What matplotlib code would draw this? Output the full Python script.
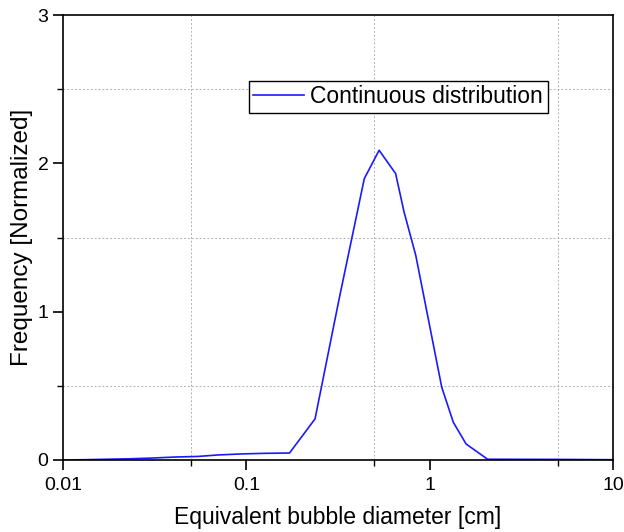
import matplotlib
matplotlib.use("Agg")
import matplotlib.pyplot as plt
from matplotlib.ticker import FixedLocator, NullFormatter

plt.rcParams['font.family'] = ['Liberation Sans', 'DejaVu Sans']

diameter = [0.01, 0.0132, 0.0173, 0.0227, 0.0305, 0.0408, 0.0545, 0.070, 0.0944,
            0.1265, 0.172, 0.237, 0.32, 0.44, 0.53, 0.652, 0.725, 0.84, 1.164,
            1.346, 1.58, 2.07, 5.0, 10.0]
frequency = [0.0, 0.002, 0.005, 0.008, 0.013, 0.02, 0.024, 0.034, 0.041,
             0.045, 0.047, 0.277, 1.08, 1.897, 2.088, 1.931, 1.672, 1.379, 0.49,
             0.254, 0.108, 0.005, 0.004, 0.002]
legend_label = "Continuous distribution"
x_ticks = [0.01, 0.1, 1, 10]
x_ticklabels = ["0.01", "0.1", "1", "10"]
x_minor = [0.05, 0.5, 5]
y_ticks = [0, 1, 2, 3]
y_minor = [0.5, 1.5, 2.5]

fig = plt.figure(figsize=(6.24, 5.32), dpi=100)
ax = fig.add_axes([63/624, 1-460/532, 550/624, 445/532])

ax.plot(diameter, frequency, color='#1a1aff', lw=1.2, label=legend_label)

ax.set_xscale('log')
ax.set_xlim(0.01, 10)
ax.set_ylim(0, 3)
ax.xaxis.set_major_locator(FixedLocator(x_ticks))
ax.set_xticklabels(x_ticklabels)
ax.xaxis.set_minor_locator(FixedLocator(x_minor))
ax.xaxis.set_minor_formatter(NullFormatter())
ax.yaxis.set_major_locator(FixedLocator(y_ticks))
ax.yaxis.set_minor_locator(FixedLocator(y_minor))

ax.grid(True, which='minor', color='#b0b0b0', linestyle=(0, (2, 2)), linewidth=0.7)
ax.grid(False, which='major')

ax.tick_params(axis='both', which='major', direction='out', length=7, width=1.2,
               labelsize=14, colors='black')
ax.tick_params(axis='both', which='minor', direction='out', length=4, width=1.0)
ax.tick_params(axis='x', pad=5)
for s in ax.spines.values():
    s.set_linewidth(1.2)

ax.set_xlabel("Equivalent bubble diameter [cm]", fontsize=16.5, labelpad=9)
ax.set_ylabel("Frequency [Normalized]", fontsize=17.5, labelpad=3.5)

leg = ax.legend(loc='upper left', bbox_to_anchor=(0.338, 0.852), fontsize=16.5,
                frameon=True, fancybox=False, edgecolor='black', framealpha=1,
                borderpad=0.2, handlelength=2.2, handletextpad=0.28,
                borderaxespad=0)
leg.get_frame().set_linewidth(1.0)

fig.savefig("out.png", dpi=100)
